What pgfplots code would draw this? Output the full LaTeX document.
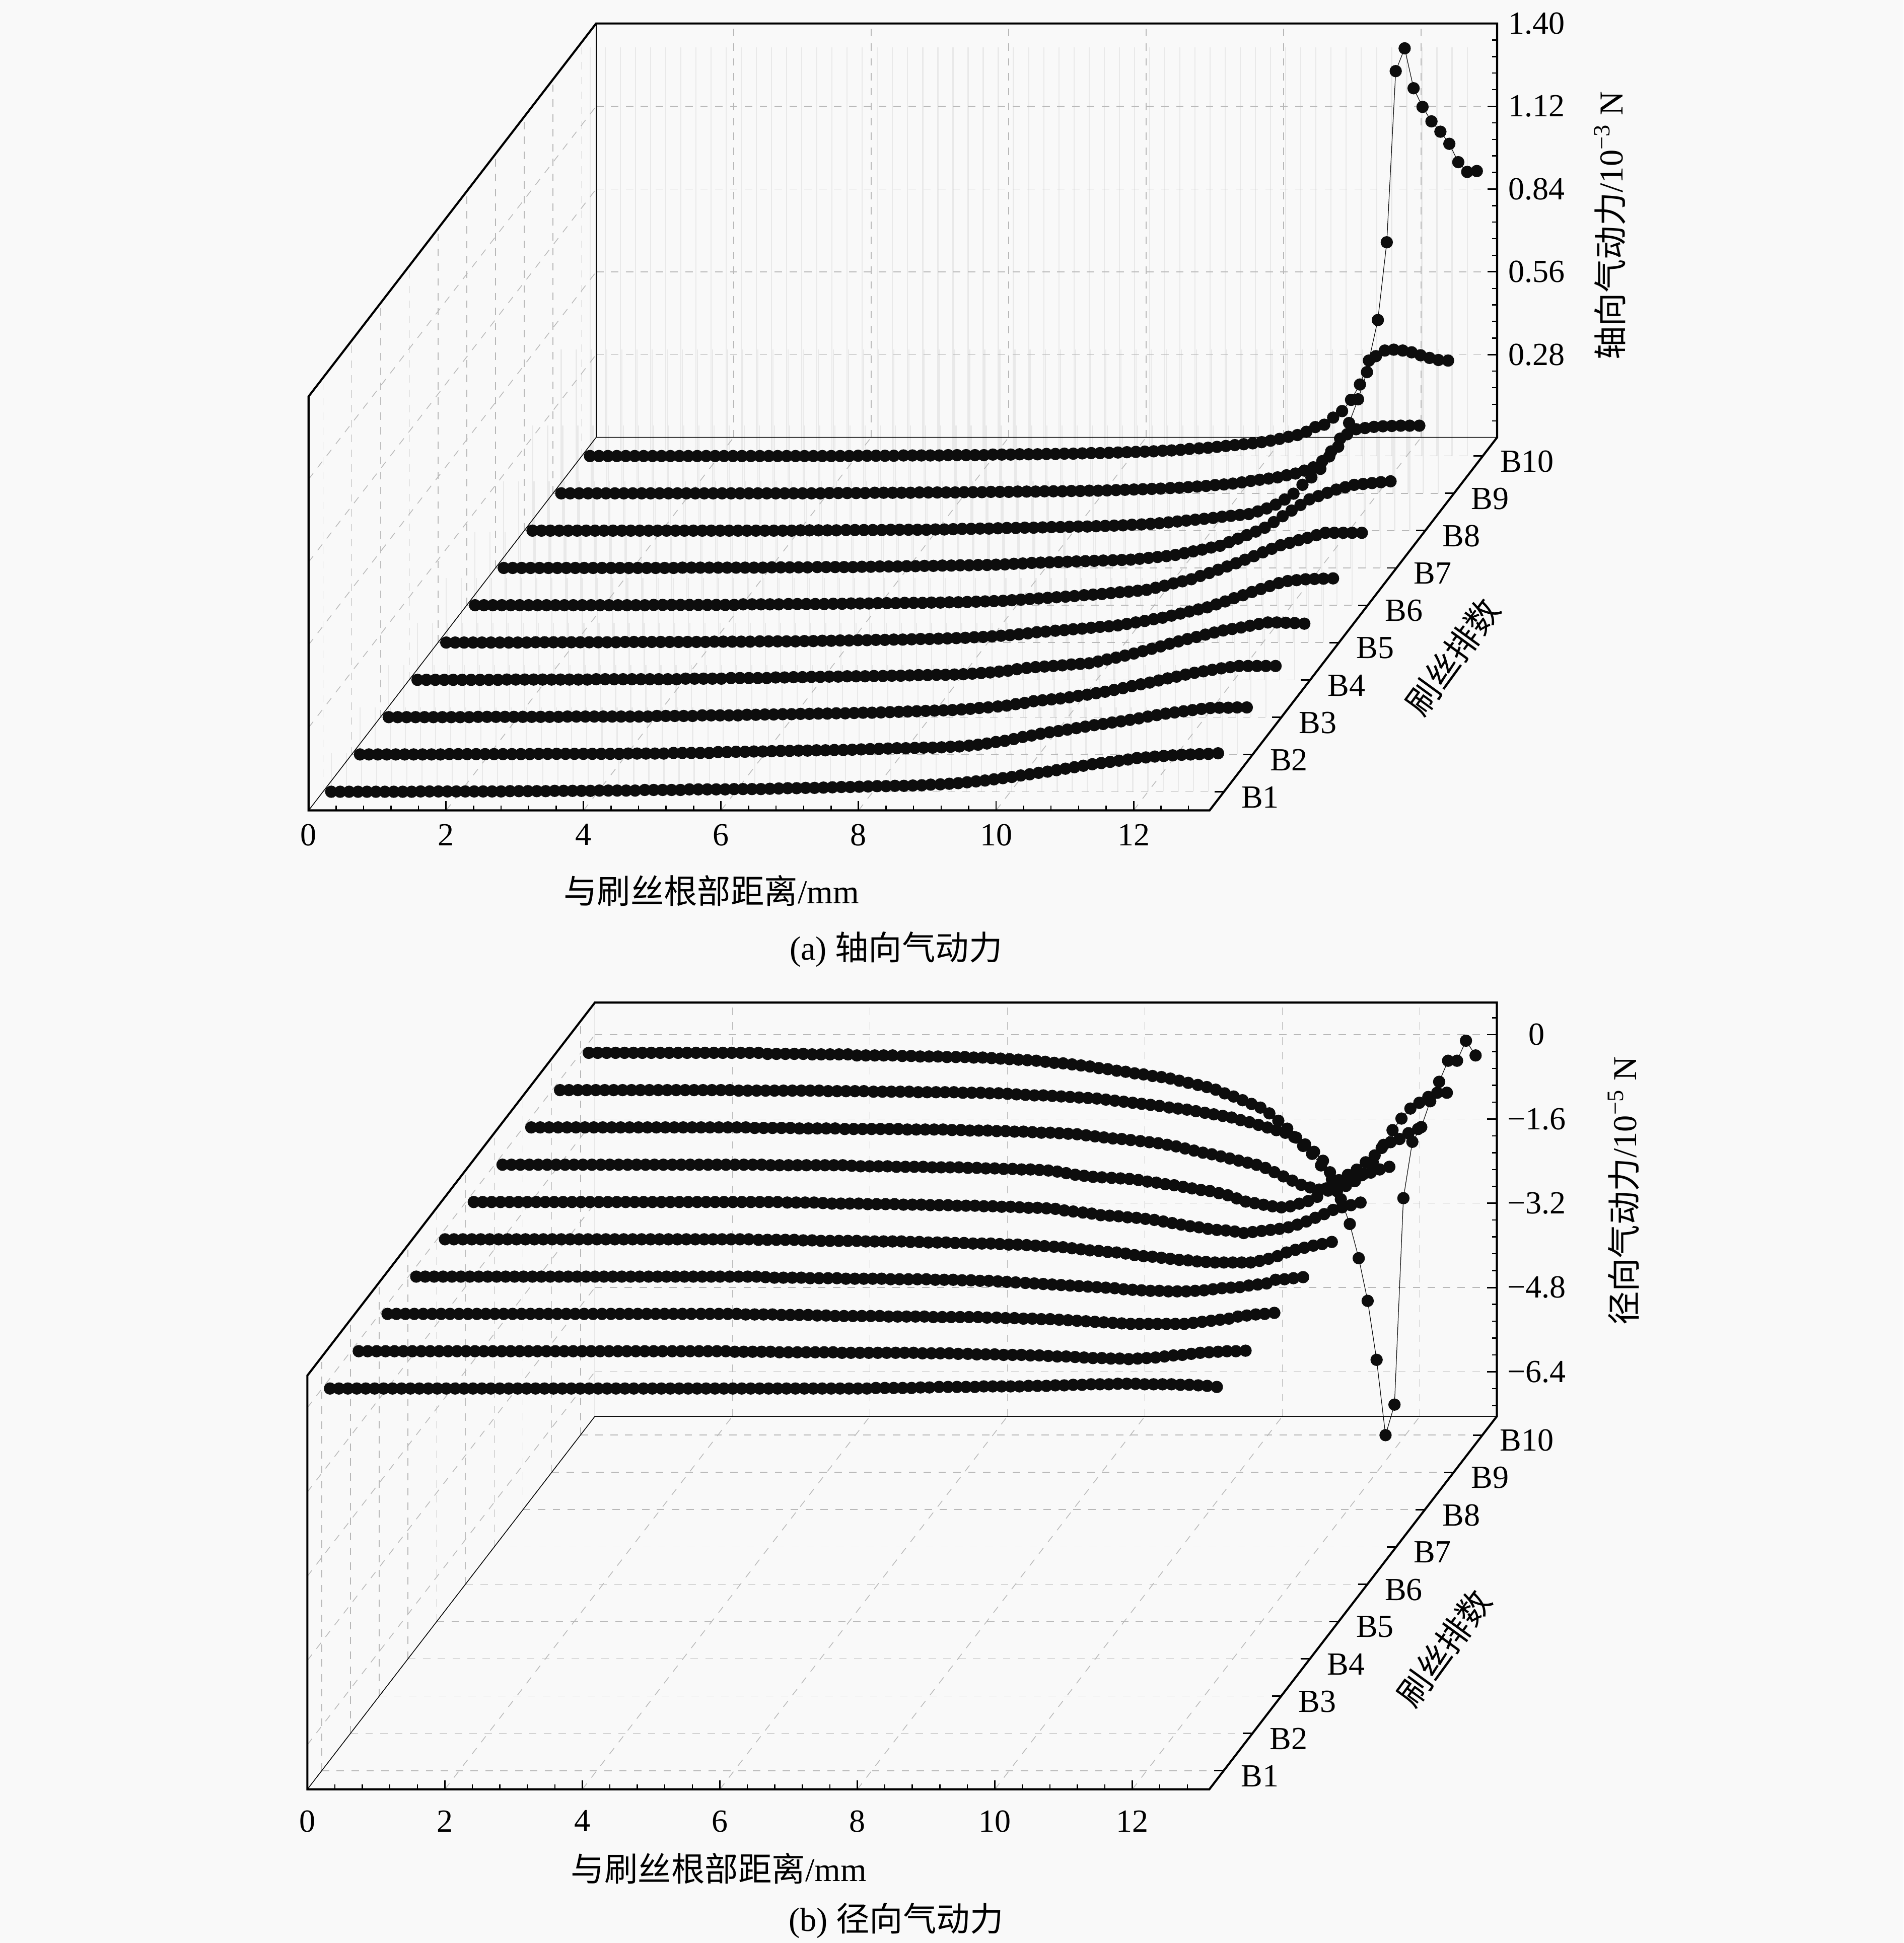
\documentclass[border=0pt]{standalone}
\usepackage{pgfplots}
\usepackage{pgfplotstable}
\pgfplotsset{compat=1.18}
\usepackage{fontspec}
\setmainfont{Liberation Serif}
\newfontfamily\cjk{Noto Sans CJK SC}
\definecolor{bgc}{HTML}{F9F9F9}
\definecolor{palec}{HTML}{E9E9E9}
\definecolor{gridc}{HTML}{B8B8B8}
\definecolor{dotc}{HTML}{0D0D0D}
\pgfplotstableread{
x b1 b2 b3 b4 b5 b6 b7 b8 b9 b10
0.12 0 0 0 0 0 0 0 0 0 0
0.25 0 0 0 0 0 0 0 0 0 0
0.38 0 0 0 0 0 0 0 0 0 0
0.51 0 0 0 0 0 0 0 0 0 0
0.64 0 0 0 0 0 0 0 0 0 0
0.77 0 0 0 0 0 0 0 0 0 0
0.90 0 0 0 0 0 0 0 0 0 0
1.03 0 0 0 0 0 0 0 0 0 0
1.16 0 0 0 0 0 0 0 0 0 0
1.29 0 0 0 0 0 0 0 0 0 0
1.42 1 1 1 1 1 0 0 0 0 0
1.55 1 1 1 1 1 0 0 0 0 0
1.68 1 1 1 1 1 0 0 0 0 0
1.81 1 1 1 1 1 0 0 0 0 0
1.94 1 1 1 1 1 0 0 0 0 0
2.07 1 1 1 1 1 0 0 0 0 0
2.20 1 1 1 1 1 0 0 0 0 0
2.33 1 1 1 1 1 0 0 0 0 0
2.46 1 1 1 1 1 0 0 0 0 0
2.59 1 1 1 1 1 0 0 0 0 0
2.72 2 2 2 2 2 1 1 0 0 0
2.85 2 2 2 2 2 1 1 0 0 0
2.98 2 2 2 2 2 1 1 0 0 0
3.11 2 2 2 2 2 1 1 0 0 0
3.24 2 2 2 2 2 1 1 0 0 0
3.37 3 2 2 2 2 1 1 0 0 0
3.50 3 2 2 2 2 1 1 0 0 0
3.63 3 2 2 2 2 1 1 0 0 0
3.76 3 2 2 2 2 1 1 0 0 0
3.89 3 2 2 2 2 1 1 0 0 0
4.02 4 3 4 4 3 3 2 1 1 1
4.15 4 3 4 4 3 3 2 1 1 1
4.28 4 3 4 4 3 3 2 1 1 1
4.41 4 3 4 4 3 3 2 1 1 1
4.54 4 3 4 4 3 3 2 1 1 1
4.68 6 5 6 6 4 4 3 2 2 2
4.81 6 5 6 6 4 4 3 2 2 2
4.94 6 5 6 6 4 4 3 2 2 2
5.07 6 5 6 6 4 4 3 2 2 2
5.20 6 5 6 6 4 4 3 2 2 2
5.33 8 8 8 8 5 5 4 3 3 3
5.46 8 8 8 8 5 5 4 3 3 3
5.59 8 9 9 9 6 6 5 3 3 3
5.72 8 9 9 9 6 6 5 3 3 3
5.85 8 10 10 10 7 6 5 3 3 3
5.98 9 10 10 10 7 7 6 4 4 5
6.11 9 11 11 11 8 7 6 4 4 5
6.24 9 12 11 11 8 7 7 5 4 5
6.37 9 12 12 12 9 8 7 6 5 6
6.50 10 13 12 12 9 8 8 6 5 6
6.63 11 13 13 12 10 8 8 7 5 6
6.76 12 14 13 13 10 9 9 7 6 7
6.89 12 14 14 13 11 9 9 8 6 7
7.02 13 15 15 14 12 10 10 9 6 8
7.15 13 15 15 14 12 10 10 9 7 8
7.28 14 16 16 15 13 11 11 10 7 9
7.41 15 17 17 16 14 12 12 10 7 10
7.54 16 18 18 16 15 13 14 11 8 10
7.67 16 19 19 17 16 14 15 12 8 11
7.80 17 20 20 17 18 15 17 12 9 12
7.93 18 21 21 18 19 17 18 13 9 13
8.06 19 21 22 19 21 19 19 14 10 14
8.19 19 22 23 21 23 21 20 14 11 15
8.32 20 23 24 23 25 23 21 15 12 16
8.45 20 23 26 25 28 25 22 16 13 18
8.58 21 24 28 28 31 27 23 17 14 19
8.71 22 26 31 31 35 29 24 18 15 21
8.84 24 27 33 36 37 31 25 20 16 24
8.98 25 30 36 40 40 34 26 21 18 26
9.11 27 33 39 43 42 36 27 23 19 28
9.24 29 37 44 45 45 38 28 25 21 31
9.37 32 42 48 47 47 41 31 28 23 34
9.50 35 46 54 49 50 44 34 31 25 37
9.63 38 52 57 52 53 46 37 34 28 40
9.76 42 59 60 54 55 49 40 37 30 43
9.89 46 64 63 56 58 52 44 40 33 47
10.02 50 70 67 62 63 59 50 43 37 52
10.15 55 75 72 69 68 66 56 47 42 58
10.28 59 79 76 75 73 74 62 50 46 65
10.41 64 84 81 82 79 81 69 53 50 71
10.54 68 89 86 89 84 88 75 56 54 82
10.67 73 94 92 97 91 99 87 65 61 98
10.80 78 99 98 105 98 109 99 75 67 106
10.93 83 103 105 113 105 120 111 88 77 130
11.06 88 108 111 122 112 131 123 105 88 152
11.19 93 112 117 130 119 142 136 125 109 190
11.32 97 117 124 138 129 154 155 155 142 242
11.45 101 122 131 145 139 166 175 180 185 323
11.58 105 128 137 153 150 179 194 209 238 460
11.71 109 133 144 160 160 191 213 251 318 723
11.84 114 138 150 167 171 203 232 284 410 1302
11.97 116 142 155 172 181 211 243 326 464 1379
12.10 119 146 160 177 191 220 254 343 483 1244
12.23 121 150 165 183 201 228 265 347 486 1181
12.36 123 154 169 189 208 237 273 351 483 1132
12.49 125 157 173 194 211 245 281 353 477 1097
12.62 126 158 173 194 214 245 284 354 467 1056
12.75 127 158 173 193 215 245 287 355 458 994
12.88 128 159 173 192 216 245 290 355 451 961
13.02 130 159 173 190 217 245 293 355 449 964
}\tabA
\pgfplotstableread{
x b1 b2 b3 b4 b5 b6 b7 b8 b9 b10
0.12 1 1 1 1 1 1 1 1 1 1
0.25 1 1 1 1 1 1 1 1 1 1
0.38 1 1 1 1 1 1 1 1 1 1
0.51 1 1 1 1 1 1 1 1 1 1
0.64 1 1 1 1 1 1 1 1 1 1
0.77 1 1 1 1 1 1 1 1 1 1
0.90 1 1 1 1 1 1 1 1 1 1
1.03 1 1 1 1 1 1 1 1 1 1
1.16 1 1 1 1 1 1 1 1 1 1
1.29 1 1 1 1 1 1 1 1 1 1
1.42 1 1 1 1 1 1 1 1 1 1
1.55 1 1 1 1 1 1 1 1 1 1
1.68 1 1 1 1 1 1 1 1 1 1
1.81 1 1 1 1 1 1 1 1 1 1
1.94 1 1 1 1 1 1 1 1 1 1
2.07 1 1 1 1 1 1 1 1 1 1
2.20 1 1 1 1 1 1 1 1 1 1
2.33 1 1 1 1 1 1 1 1 1 1
2.46 1 1 1 1 1 1 1 1 1 1
2.59 1 1 1 1 1 1 1 1 1 1
2.72 1 1 1 1 1 1 1 1 0 -1
2.85 1 1 1 1 1 1 1 1 0 -1
2.98 1 1 1 1 1 1 1 1 0 -1
3.11 1 1 1 1 1 1 1 1 0 -1
3.24 1 1 1 1 1 1 1 1 0 -1
3.37 1 1 1 1 1 1 1 0 0 -2
3.50 1 1 1 1 1 1 1 0 0 -2
3.63 1 1 1 1 1 1 1 0 0 -2
3.76 1 1 1 1 1 1 1 0 0 -2
3.89 1 1 1 1 1 1 1 0 0 -2
4.02 1 1 1 1 1 1 0 -1 -1 -4
4.15 1 1 1 1 1 1 0 -1 -1 -4
4.28 1 1 1 1 1 1 0 -1 -1 -4
4.41 1 1 1 1 1 1 0 -1 -1 -4
4.54 1 1 1 1 1 1 0 -1 -1 -4
4.68 1 1 1 1 0 0 0 -2 -2 -5
4.81 1 1 1 1 0 0 0 -2 -2 -5
4.94 1 1 1 1 0 0 0 -2 -2 -6
5.07 1 1 1 1 0 0 0 -2 -2 -6
5.20 1 1 1 0 0 -1 -1 -2 -2 -6
5.33 1 1 0 -1 -1 -2 -2 -2 -3 -7
5.46 1 1 0 -1 -1 -2 -2 -2 -3 -7
5.59 1 0 0 -1 -2 -2 -2 -3 -3 -7
5.72 1 0 0 -1 -2 -2 -2 -3 -3 -8
5.85 1 0 -1 -2 -2 -3 -3 -3 -3 -8
5.98 1 0 -1 -2 -2 -3 -3 -3 -4 -9
6.11 1 0 -1 -2 -2 -3 -3 -3 -4 -10
6.24 1 -1 -1 -2 -3 -3 -3 -4 -4 -11
6.37 1 -1 -2 -3 -3 -4 -4 -4 -5 -12
6.50 1 -1 -2 -3 -3 -4 -4 -5 -5 -13
6.63 1 -1 -3 -3 -3 -4 -4 -5 -6 -14
6.76 1 -1 -3 -3 -3 -5 -4 -5 -7 -16
6.89 1 -1 -3 -3 -4 -5 -5 -6 -8 -18
7.02 1 -1 -3 -4 -4 -5 -5 -6 -9 -19
7.15 1 -2 -3 -4 -5 -6 -6 -7 -9 -21
7.28 1 -2 -3 -4 -5 -6 -6 -7 -10 -23
7.41 1 -2 -4 -4 -5 -6 -7 -8 -11 -25
7.54 1 -2 -4 -4 -6 -7 -7 -9 -12 -28
7.67 1 -2 -4 -5 -6 -7 -8 -9 -13 -30
7.80 1 -2 -4 -5 -7 -8 -8 -10 -14 -33
7.93 1 -2 -4 -5 -7 -8 -9 -11 -15 -35
8.06 2 -2 -5 -6 -7 -9 -10 -12 -17 -38
8.19 2 -2 -5 -6 -8 -10 -12 -14 -19 -40
8.32 2 -3 -5 -7 -9 -10 -15 -16 -21 -43
8.45 2 -3 -5 -7 -9 -11 -18 -18 -23 -45
8.58 2 -3 -5 -8 -10 -12 -20 -20 -25 -48
8.71 3 -3 -5 -9 -11 -15 -22 -21 -27 -52
8.84 3 -4 -6 -10 -12 -17 -23 -23 -29 -56
8.98 4 -4 -6 -11 -13 -19 -24 -25 -32 -60
9.11 4 -5 -7 -12 -14 -21 -25 -27 -34 -64
9.24 4 -5 -7 -13 -16 -24 -26 -29 -36 -69
9.37 4 -5 -8 -14 -18 -25 -28 -32 -39 -76
9.50 4 -6 -8 -15 -20 -26 -31 -35 -42 -82
9.63 5 -6 -9 -16 -21 -28 -33 -39 -45 -89
9.76 5 -6 -9 -17 -23 -29 -36 -43 -48 -96
9.89 5 -7 -10 -18 -24 -31 -38 -47 -51 -103
10.02 5 -7 -11 -19 -26 -33 -41 -50 -56 -114
10.15 5 -8 -12 -20 -29 -36 -44 -54 -60 -128
10.28 6 -9 -13 -21 -31 -39 -47 -58 -65 -143
10.41 6 -9 -14 -23 -32 -42 -49 -62 -70 -160
10.54 6 -10 -15 -24 -34 -45 -53 -66 -75 -173
10.67 7 -11 -16 -25 -36 -47 -57 -70 -80 -187
10.80 7 -12 -17 -26 -38 -50 -63 -76 -88 -204
10.93 8 -12 -18 -26 -39 -52 -69 -84 -105 -239
11.06 8 -13 -18 -27 -41 -53 -72 -92 -120 -277
11.19 9 -13 -18 -27 -42 -55 -75 -100 -142 -324
11.32 9 -14 -18 -27 -43 -58 -78 -108 -155 -389
11.45 9 -13 -18 -26 -43 -56 -80 -113 -170 -470
11.58 10 -12 -18 -25 -43 -54 -78 -117 -160 -582
11.71 10 -11 -18 -23 -43 -52 -73 -119 -150 -725
11.84 10 -9 -16 -21 -43 -50 -68 -120 -136 -667
11.97 9 -7 -14 -20 -40 -47 -60 -110 -123 -275
12.10 9 -6 -12 -19 -36 -42 -44 -101 -103 -168
12.23 9 -4 -10 -16 -31 -36 -38 -87 -75 -140
12.36 9 -2 -8 -14 -24 -29 -30 -65 -53 -91
12.49 8 -1 -4 -12 -19 -22 -25 -38 -34 -54
12.62 8 0 -2 -5 -15 -14 -19 -27 -23 -14
12.75 7 1 0 -4 -11 -9 -14 -21 -12 -14
12.88 6 1 1 -2 -8 -5 -8 -10 -4 24
13.02 4 2 3 0 -4 0 -3 -2 -4 -4
}\tabB
\pgfplotsset{
  chart/.style={
    anchor=south west, clip=false,
    x={(27.735pt,0pt)}, y={(11.6pt,15.05pt)},
    xmin=0,ymin=0.5,ymax=10.5,
    axis line style={draw=none},
    tick style={draw=none},
    grid=major,
    grid style={dashed,gridc,line width=0.3pt},
    xtick={0,2,4,6,8,10,12},
    ytick={1,2,3,4,5,6,7,8,9,10},
    yticklabels={B1,B2,B3,B4,B5,B6,B7,B8,B9,B10},
    /pgf/number format/assume math mode=true,
    tick label style={font=\fontsize{13pt}{15pt}\selectfont},
    xticklabel style={anchor=north,yshift=-2pt},
    yticklabel style={anchor=west,xshift=3.5pt,yshift=-2.2pt},
    zticklabel pos=right,
    zticklabel style={anchor=center,xshift=16pt},
  },
  ser/.style={line width=0.25pt,color=dotc,mark=*,mark size=2.35pt,mark options={fill=dotc,draw=dotc}},
}
\begin{document}
\begin{tikzpicture}
\useasboundingbox (0,0) rectangle (768pt,784pt);
\fill[bgc] (0,0) rectangle (768pt,784pt);
% faint vertical rules standing on each row of the upper chart
\foreach \r/\h in {1/15.5,2/19,3/21,4/23,5/26,6/29.5,7/35,8/42.5,9/58,10/165}{
  \foreach \x in {0.12,0.34,...,13.02}{
    \draw[palec,line width=0.45pt] ({(124.5+11.6*(\r-0.5)+27.735*\x)*1pt},{(457+15.05*(\r-0.5))*1pt}) -- ++(0,\h pt);
  }
}
% ---------- upper chart
\begin{axis}[chart, at={(124.5pt,457pt)}, xmax=13.106,
  z={(0pt,0.11929pt)}, zmin=0,zmax=1400,
  ztick={280,560,840,1120,1400},
  zticklabels={0.28,0.56,0.84,1.12,1.40}]
\draw[black,line width=0.3pt] (axis cs:0,0.5,0) -- (axis cs:0,10.5,0) -- (axis cs:13.106,10.5,0);
\draw[black,line width=0.3pt] (axis cs:0,10.5,0) -- (axis cs:0,10.5,1400);
\pgfplotsinvokeforeach{1,...,10}{\addplot3[ser] table[x=x,y expr=#1,z=b#1]{\tabA};}
\draw[black,line width=0.85pt,line join=miter] (axis cs:0,0.5,1400) -- (axis cs:0,0.5,0) -- (axis cs:13.106,0.5,0) -- (axis cs:13.106,10.5,0) -- (axis cs:13.106,10.5,1400) -- (axis cs:0,10.5,1400) -- cycle;
\pgfplotsinvokeforeach{2,4,6,8,10,12}{\draw[black,line width=0.6pt] (axis cs:#1,0.5,0) -- ([yshift=3.7pt]axis cs:#1,0.5,0);}
\pgfplotsinvokeforeach{0.4,0.8,1.2,1.6,2.4,2.8,3.2,3.6,4.4,4.8,5.2,5.6,6.4,6.8,7.2,7.6,8.4,8.8,9.2,9.6,10.4,10.8,11.2,11.6,12.4,12.8}{\draw[black,line width=0.5pt] (axis cs:#1,0.5,0) -- ([yshift=1.9pt]axis cs:#1,0.5,0);}
\pgfplotsinvokeforeach{1,...,10}{\draw[black,line width=0.6pt] (axis cs:13.106,#1,0) -- ([xshift=-3.8pt]axis cs:13.106,#1,0);}
\pgfplotsinvokeforeach{280,560,840,1120}{\draw[black,line width=0.6pt] (axis cs:13.106,10.5,#1) -- ([xshift=-3.9pt]axis cs:13.106,10.5,#1);}
\pgfplotsinvokeforeach{56,112,168,224,336,392,448,504,616,672,728,784,896,952,1008,1064,1176,1232,1288,1344}{\draw[black,line width=0.5pt] (axis cs:13.106,10.5,#1) -- ([xshift=-2pt]axis cs:13.106,10.5,#1);}
\end{axis}
% ---------- lower chart
\begin{axis}[chart, at={(124pt,62pt)}, xmax=13.12,
  xticklabel style={anchor=north,yshift=-3pt},
  z={(0pt,0.2125pt)}, zmin=-724.7,zmax=61,
  ztick={-640,-480,-320,-160,0},
  zticklabels={−6.4,−4.8,−3.2,−1.6,0}]
\draw[black,line width=0.3pt] (axis cs:0,0.5,-724.7) -- (axis cs:0,10.5,-724.7) -- (axis cs:13.12,10.5,-724.7);
\draw[black,line width=0.3pt] (axis cs:0,10.5,-724.7) -- (axis cs:0,10.5,61);
\pgfplotsinvokeforeach{1,...,10}{\addplot3[ser] table[x=x,y expr=#1,z=b#1]{\tabB};}
\draw[black,line width=0.85pt,line join=miter] (axis cs:0,0.5,61) -- (axis cs:0,0.5,-724.7) -- (axis cs:13.12,0.5,-724.7) -- (axis cs:13.12,10.5,-724.7) -- (axis cs:13.12,10.5,61) -- (axis cs:0,10.5,61) -- cycle;
\pgfplotsinvokeforeach{2,4,6,8,10,12}{\draw[black,line width=0.6pt] (axis cs:#1,0.5,-724.7) -- ([yshift=3.7pt]axis cs:#1,0.5,-724.7);}
\pgfplotsinvokeforeach{0.4,0.8,1.2,1.6,2.4,2.8,3.2,3.6,4.4,4.8,5.2,5.6,6.4,6.8,7.2,7.6,8.4,8.8,9.2,9.6,10.4,10.8,11.2,11.6,12.4,12.8}{\draw[black,line width=0.5pt] (axis cs:#1,0.5,-724.7) -- ([yshift=1.9pt]axis cs:#1,0.5,-724.7);}
\pgfplotsinvokeforeach{1,...,10}{\draw[black,line width=0.6pt] (axis cs:13.12,#1,-724.7) -- ([xshift=-3.8pt]axis cs:13.12,#1,-724.7);}
\pgfplotsinvokeforeach{-640,-480,-320,-160,0}{\draw[black,line width=0.6pt] (axis cs:13.12,10.5,#1) -- ([xshift=-3.9pt]axis cs:13.12,10.5,#1);}
\pgfplotsinvokeforeach{-704,-672,-608,-576,-544,-512,-448,-416,-384,-352,-288,-256,-224,-192,-128,-96,-64,-32,32}{\draw[black,line width=0.5pt] (axis cs:13.12,10.5,#1) -- ([xshift=-2pt]axis cs:13.12,10.5,#1);}
\end{axis}
% ---------- titles
\def\lab{\fontsize{13.5pt}{15pt}\selectfont}
\node[font=\lab] at (287pt,424.5pt) {{\cjk 与刷丝根部距离}/mm};
\node[font=\lab] at (290pt,30pt) {{\cjk 与刷丝根部距离}/mm};
\node[font=\lab] at (361.5pt,401pt) {(a) {\cjk 轴向气动力}};
\node[font=\lab] at (361.5pt,9pt) {(b) {\cjk 径向气动力}};
\node[font=\lab,rotate=54] at (586pt,519pt) {\cjk 刷丝排数};
\node[font=\lab,rotate=54] at (582.5pt,119pt) {\cjk 刷丝排数};
\node[font=\lab,rotate=90] at (649.5pt,693pt) {{\cjk 轴向气动力}/10\textsuperscript{−3} N};
\node[font=\lab,rotate=90] at (655pt,303.5pt) {{\cjk 径向气动力}/10\textsuperscript{−5} N};
\end{tikzpicture}
\end{document}
